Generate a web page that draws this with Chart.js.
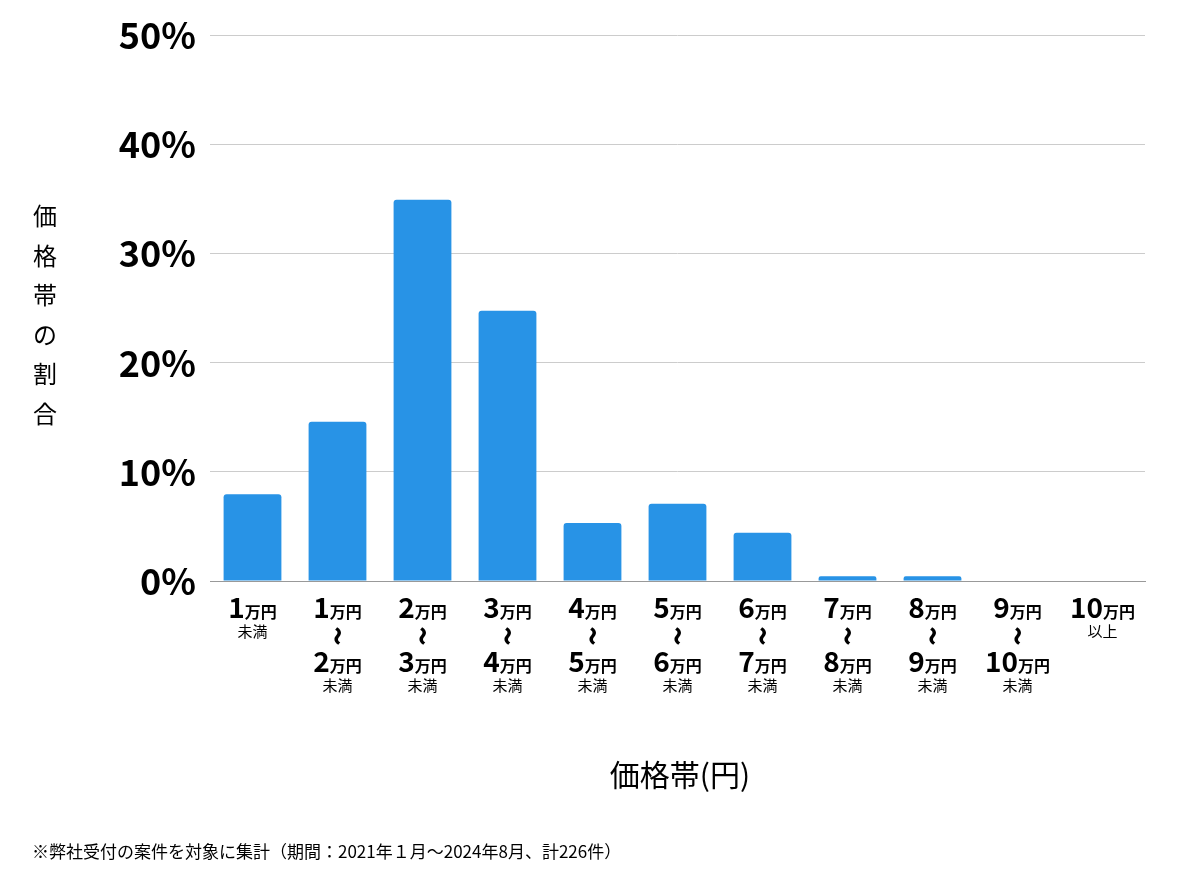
<!DOCTYPE html>
<html><head><meta charset="utf-8">
<script src="https://cdn.jsdelivr.net/npm/chart.js@4"></script>
<style>body{margin:0;background:#fff}#w{width:1200px;height:874px}</style>
</head><body><div id="w"><canvas id="c"></canvas></div>
<script>
const categories=["1万円未満","1万円〜2万円未満","2万円〜3万円未満","3万円〜4万円未満","4万円〜5万円未満","5万円〜6万円未満","6万円〜7万円未満","7万円〜8万円未満","8万円〜9万円未満","9万円〜10万円未満","10万円以上"];
const lowNums=["1","1","2","3","4","5","6","7","8","9","10"];
const highNums=[null,"2","3","4","5","6","7","8","9","10",null];
const suffix=["未満",null,null,null,null,null,null,null,null,null,"以上"];
const values=[7.96,14.60,34.96,24.78,5.31,7.08,4.42,0.44,0.44,0,0];
const yTicks=[0,10,20,30,40,50];
const F="'Noto Sans CJK JP'";
function numUnit(ctx,x,y,num){
  ctx.font="bold 28px "+F;const w1=ctx.measureText(num).width;
  ctx.font="bold 16px "+F;const w2=ctx.measureText("万円").width;
  let sx=x-(w1+w2)/2;ctx.textAlign="left";ctx.textBaseline="alphabetic";
  ctx.font="bold 28px "+F;ctx.fillText(num,sx,y);
  ctx.font="bold 16px "+F;ctx.fillText("万円",sx+w1,y);
}
const plug={id:"p",afterDraw(ch){
  const ctx=ch.ctx,xs=ch.scales.x;ctx.save();ctx.fillStyle="#000";
  categories.forEach((c,i)=>{
    const x=xs.getPixelForTick(i);
    numUnit(ctx,x,618,lowNums[i]);
    ctx.textAlign="center";
    if(highNums[i]){
      ctx.save();ctx.translate(x,636);ctx.rotate(Math.PI/2);ctx.font="bold 34px "+F;ctx.textBaseline="middle";ctx.fillText("~",0,0);ctx.restore();
      numUnit(ctx,x,672,highNums[i]);
      ctx.textAlign="center";ctx.font="15px "+F;ctx.textBaseline="alphabetic";ctx.fillText("未満",x,691);
    } else {ctx.font="15px "+F;ctx.textBaseline="alphabetic";ctx.fillText(suffix[i],x,637);}
  });
  ctx.font="24px "+F;ctx.textAlign="center";ctx.textBaseline="middle";
  "価格帯の割合".split("").forEach((ch2,k)=>ctx.fillText(ch2,45,216+k*39.5));
  ctx.font="30px "+F;ctx.fillText("価格帯(円)",680,775);
  ctx.font="17px "+F;ctx.textAlign="left";ctx.fillText("※弊社受付の案件を対象に集計（期間：2021年１月〜2024年8月、計226件）",32,852);
  ctx.restore();}};
new Chart(document.getElementById("c"),{type:"bar",
 data:{labels:categories,datasets:[{data:values,backgroundColor:"#2893e6",borderRadius:{topLeft:3,topRight:3},borderSkipped:"bottom",barPercentage:0.68,categoryPercentage:1}]},
 options:{responsive:true,maintainAspectRatio:false,animation:false,devicePixelRatio:1,
  layout:{padding:{top:9,right:55,bottom:285,left:0}},
  plugins:{legend:{display:false},tooltip:{enabled:false}},
  scales:{x:{grid:{display:false},border:{color:"#999"},ticks:{display:false}},
   y:{min:0,max:50,afterFit:s=>{s.width=210},afterBuildTicks:s=>{s.ticks=yTicks.map(v=>({value:v}))},
    grid:{color:"#ccc",drawTicks:false},border:{display:false},
    ticks:{padding:14,color:"#000",font:{family:F,size:36,weight:"bold"},callback:v=>v+"%"}}}},
 plugins:[plug]});
</script></body></html>
